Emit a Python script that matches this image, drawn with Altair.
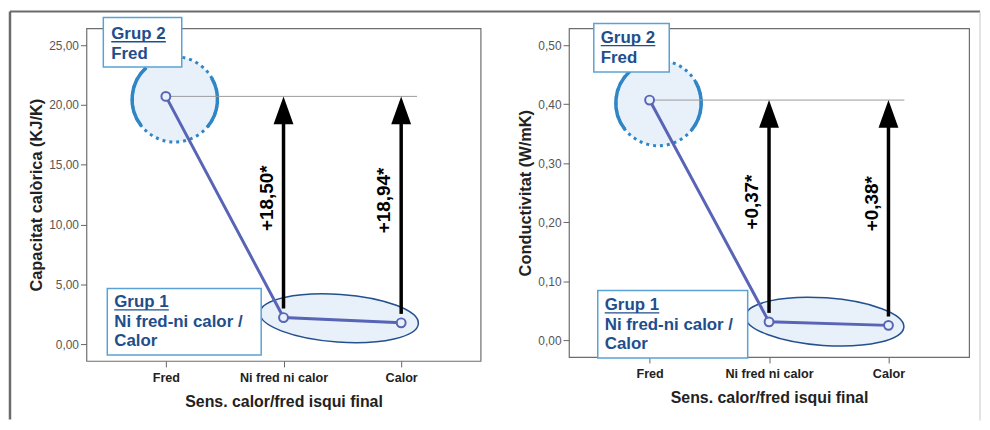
import altair as alt
import pandas as pd

# ---------------- data ----------------
cats = ["Fred", "Ni fred ni calor", "Calor"]
cap_values = [20.72, 2.22, 1.78]
cond_values = [0.407, 0.031, 0.025]
cap_diffs = ["+18,50*", "+18,94*"]
cond_diffs = ["+0,37*", "+0,38*"]
cap_ticks = [0, 5, 10, 15, 20, 25]
cond_ticks = [0, 0.1, 0.2, 0.3, 0.4, 0.5]
cap_domain = [-1.41, 26.41]
cond_domain = [-0.0286, 0.5286]
x_title = "Sens. calor/fred isqui final"
cap_title = "Capacitat calòrica (KJ/K)"
cond_title = "Conductivitat (W/mK)"
grup2_lines = ["Grup 2", "Fred"]
grup1_lines = ["Grup 1", "Ni fred-ni calor /", "Calor"]

FONT = "Liberation Sans"
LINE_C = "#5864b6"
CIRC_C = "#2f86c6"
FILL_C = "#e8f1fa"
ELL_C = "#24508f"
BOX_C = "#5aa2d6"
TXT_C = "#1f4e8c"

ELLIPSE = ("M-1,0 C-1,-0.1657 -0.5523,-0.3 0,-0.3 C0.5523,-0.3 1,-0.1657 1,0 "
           "C1,0.1657 0.5523,0.3 0,0.3 C-0.5523,0.3 -1,0.1657 -1,0 Z")
ARCS = ("M-0.788,0.616 A1,1,0,0,1,-0.669,-0.743 "
        "M0.866,-0.5 A1,1,0,0,1,0.766,0.643")
TRI = "M0,-1 L0.714,1 L-0.714,1 Z"


def panel(values, diffs, ticks, domain, ytitle, w, h, lay, frame_left=False, frame_right=False):
    df = pd.DataFrame({"cat": cats, "val": values})
    fred = df.iloc[[0]]
    ell = pd.DataFrame({"cat": [cats[1]], "val": [sum(values[1:]) / 2]})
    ref = pd.DataFrame({"cat": [cats[0]], "cat2": [cats[2]], "val": [values[0]]})
    arr = pd.DataFrame({"cat": cats[1:], "bottom": values[1:],
                        "top": [values[0]] * 2, "label": diffs})
    one = pd.DataFrame({"k": [0]})

    xscale = alt.Scale(type="point", domain=cats, padding=0.675)
    xaxis = alt.Axis(title=x_title, labelAngle=0, labelFontSize=12.7, labelFontWeight="bold",
                     labelColor="#222", tickColor="#666", tickSize=6, domain=False,
                     labelPadding=5, titleFontSize=16, titleFontWeight="bold",
                     titleColor="#222", titlePadding=9)
    yscale = alt.Scale(domain=domain, nice=False, zero=False)
    yaxis = alt.Axis(title=ytitle, values=ticks, grid=False, domain=False,
                     labelExpr="replace(format(datum.value, '.2f'), '.', ',')",
                     labelFontSize=12, labelColor="#555", tickColor="#666", tickSize=6,
                     labelPadding=2, titleFontSize=16.5, titleFontWeight="bold",
                     titleColor="#222", titlePadding=4)

    def X(f="cat"):
        return alt.X(f"{f}:N", scale=xscale, axis=xaxis, sort=cats)

    def Y(f="val"):
        return alt.Y(f"{f}:Q", scale=yscale, axis=yaxis)

    layers = []
    if frame_left:
        layers.append(alt.Chart(one).mark_rule(color="#6b6b6b", strokeWidth=2.5).encode(
            x=alt.value(-77), y=alt.value(-17), y2=alt.value(394)))
        layers.append(alt.Chart(one).mark_rule(color="#6b6b6b", strokeWidth=2).encode(
            x=alt.value(-77), x2=alt.value(900), y=alt.value(-17)))
    if frame_right:
        layers.append(alt.Chart(one).mark_rule(color="#c8c8c8", strokeWidth=1).encode(
            x=alt.value(414), y=alt.value(-16), y2=alt.value(395)))

    # Grup 2 circle (dotted) + solid arcs
    layers.append(alt.Chart(fred).mark_point(
        shape="circle", size=86 * 86, filled=True, fill=FILL_C, fillOpacity=1, opacity=1,
        stroke=CIRC_C, strokeWidth=3, strokeDash=[3, 4], xOffset=9, yOffset=3
    ).encode(x=X(), y=Y()))
    layers.append(alt.Chart(fred).mark_point(
        shape=ARCS, size=86 * 86, filled=False, opacity=1, stroke=CIRC_C, strokeWidth=3.5,
        xOffset=9, yOffset=3
    ).encode(x=X(), y=Y()))
    # Grup 1 ellipse
    layers.append(alt.Chart(ell).mark_point(
        shape=ELLIPSE, size=160 * 160, filled=True, fill=FILL_C, fillOpacity=1, opacity=1,
        stroke=ELL_C, strokeWidth=1.5, xOffset=56, yOffset=-2, angle=4
    ).encode(x=X(), y=Y()))
    # horizontal reference line
    layers.append(alt.Chart(ref).mark_rule(color="#9a9a9a", strokeWidth=1, x2Offset=16).encode(
        x=X(), x2="cat2:N", y=Y()))
    # mean line and points
    layers.append(alt.Chart(df).mark_line(color=LINE_C, strokeWidth=3).encode(x=X(), y=Y()))
    layers.append(alt.Chart(df).mark_point(
        shape="circle", size=80, filled=True, fill=FILL_C, stroke=LINE_C, strokeWidth=2,
        opacity=1, fillOpacity=1).encode(x=X(), y=Y()))
    # arrows
    layers.append(alt.Chart(arr).mark_rule(color="black", strokeWidth=3.5, yOffset=-9,
                                            y2Offset=12).encode(
        x=X(), y=Y("bottom"), y2="top:Q"))
    layers.append(alt.Chart(arr).mark_point(
        shape=TRI, size=28 * 28, filled=True, color="black", opacity=1, yOffset=14
    ).encode(x=X(), y=Y("top")))
    layers.append(alt.Chart(arr).transform_calculate(
        mid="datum.bottom + 0.54 * (datum.top - datum.bottom)"
    ).mark_text(angle=270, fontSize=19, fontWeight="bold", color="black", align="center",
                baseline="middle", xOffset=-17).encode(
        x=X(), y=Y("mid"), text="label:N"))

    # annotation boxes
    for (bx, by, bw, bh, tx, base, lines) in [lay["g2"] + (grup2_lines,), lay["g1"] + (grup1_lines,)]:
        layers.append(alt.Chart(one).mark_rect(fill="white", stroke=BOX_C, strokeWidth=1.5).encode(
            x=alt.value(bx), x2=alt.value(bx + bw), y=alt.value(by), y2=alt.value(by + bh)))
        for i, t in enumerate(lines):
            layers.append(alt.Chart(one).mark_text(
                align="left", baseline="alphabetic", fontSize=17, fontWeight="bold",
                color=TXT_C).encode(x=alt.value(tx), y=alt.value(base + i * 19.5),
                                     text=alt.value(t)))
        layers.append(alt.Chart(one).mark_rule(color=TXT_C, strokeWidth=1.3).encode(
            x=alt.value(tx), x2=alt.value(tx + 55), y=alt.value(base + 2.5)))

    return alt.layer(*layers).properties(width=w, height=h)


left = panel(cap_values, cap_diffs, cap_ticks, cap_domain, cap_title, 397, 335,
             {"g2": (17, -11, 79, 50, 25, 11), "g1": (21, 262, 155, 67, 28, 281)},
             frame_left=True)
right = panel(cond_values, cond_diffs, cond_ticks, cond_domain, cond_title, 403, 331,
              {"g2": (25, -5, 76, 49, 32, 15), "g1": (29, 264, 151, 68, 36, 284)},
              frame_right=True)

chart = alt.hconcat(left, right, spacing=89, bounds="flush").properties(
    padding=0, background="white"
).configure(font=FONT).configure_view(stroke="#6e6e6e", strokeWidth=1.2)

chart.save("out.html", embed_options={"renderer": "svg", "actions": False})
